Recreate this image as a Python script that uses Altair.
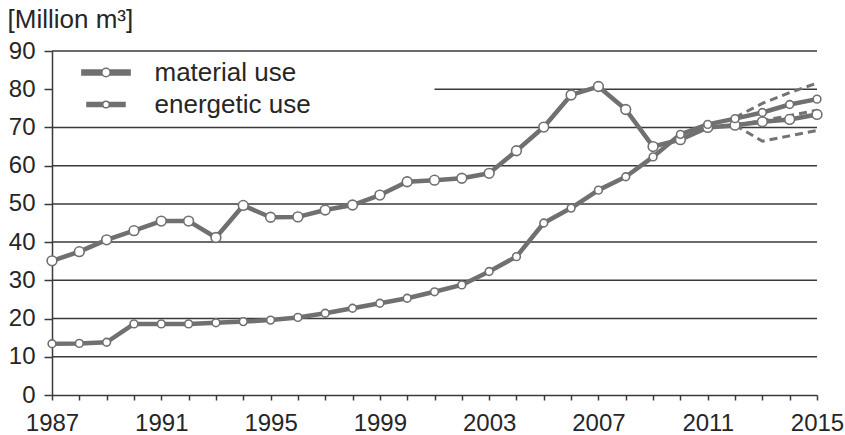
import altair as alt
import pandas as pd

# ---------------- data ----------------
years = list(range(1987, 2016))
material_use = [35.1, 37.5, 40.6, 43.0, 45.5, 45.5, 41.2, 49.6, 46.5, 46.6,
                48.4, 49.7, 52.3, 55.8, 56.2, 56.7, 58.0, 63.9, 70.1, 78.5,
                80.7, 74.7, 65.0, 66.8, 70.0, 70.6, 71.5, 72.1, 73.4]
energetic_use = [13.4, 13.5, 13.8, 18.6, 18.6, 18.6, 18.9, 19.2, 19.6, 20.3,
                 21.4, 22.7, 24.0, 25.3, 27.0, 28.8, 32.3, 36.2, 45.0, 48.9,
                 53.6, 57.1, 62.3, 68.2, 70.8, 72.3, 73.9, 76.0, 77.4]
series_names = ["material use", "energetic use"]

scenario_years = [2012, 2013, 2014, 2015]
scenario_high = [72.6, 76.3, 79.1, 81.6]
scenario_mid = [70.6, 71.8, 73.1, 74.5]
scenario_low = [70.6, 66.4, 67.8, 69.2]

grid_values = [10, 20, 30, 40, 50, 60, 70, 80, 90]
grid_start = [1987, 1987, 1987, 1987, 1987, 1987, 1987, 2001, 1987]
grid_end = [2015] * 9

y_ticks = [0, 10, 20, 30, 40, 50, 60, 70, 80, 90]
y_title = "[Million m³]"

# ---------------- tables ----------------
main_df = pd.DataFrame({
    "year": years * 2,
    "value": material_use + energetic_use,
    "series": [series_names[0]] * len(years) + [series_names[1]] * len(years),
})
main_df["marker"] = main_df["series"]
scen_df = pd.DataFrame({
    "year": scenario_years * 3,
    "value": scenario_high + scenario_mid + scenario_low,
    "scenario": ["high"] * 4 + ["mid"] * 4 + ["low"] * 4,
})
grid_df = pd.DataFrame({"year": grid_start, "year_end": grid_end, "value": grid_values})

FONT = "Liberation Sans"
TXT = "#262626"
GRAY = "#707070"
DARK = "#3a3a3a"

xscale = alt.Scale(domain=[1987, 2015], nice=False, zero=False)
yscale = alt.Scale(domain=[0, 90], nice=False, zero=True)

xaxis = alt.Axis(values=years, format="d",
                 labelExpr="(datum.value - 1987) % 4 == 0 ? datum.label : ''",
                 labelFlush=False, labelOverlap=False, grid=False, title=None,
                 tickSize=5, tickWidth=1.5, tickColor=DARK,
                 domainColor=DARK, domainWidth=1.5,
                 labelFont=FONT, labelFontSize=24, labelColor=TXT, labelPadding=11)
yaxis = alt.Axis(values=y_ticks, grid=False, tickSize=8, tickWidth=1.5, tickColor=DARK,
                 domainColor=DARK, domainWidth=1.5,
                 labelFont=FONT, labelFontSize=24, labelColor=TXT, labelPadding=9,
                 title=y_title, titleAngle=0, titleX=-45, titleY=-32,
                 titleAlign="left", titleBaseline="middle",
                 titleFont=FONT, titleFontSize=26, titleFontWeight="normal", titleColor=TXT)

X = alt.X("year:Q", scale=xscale, axis=xaxis)
Y = alt.Y("value:Q", scale=yscale, axis=yaxis)

# legend symbol (stroked): thick bar made of dense parallel strokes, open ring in the middle
_rows = [(-0.5, 0.687), (-0.333, 0.782), (-0.167, 0.833), (0.0, 0.85),
         (0.167, 0.833), (0.333, 0.782), (0.5, 0.687)]
LEG_PATH = " ".join(f"M-5.1,{yy} L-{xe},{yy} M{xe},{yy} L5.1,{yy}" for yy, xe in _rows)
LEG_PATH += " M0.85,0 A0.85,0.85 0 1,1 -0.85,0 A0.85,0.85 0 1,1 0.85,0 Z"

grid = alt.Chart(grid_df).mark_rule(color=DARK, strokeWidth=1.5).encode(
    x=X, x2="year_end:Q", y=Y)

dashed = alt.Chart(scen_df).mark_line(color="#737373", strokeWidth=3,
                                      strokeDash=[8, 5]).encode(
    x=X, y=Y, detail="scenario:N")

lines = alt.Chart(main_df).mark_line(strokeWidth=4.5, strokeJoin="round").encode(
    x=X, y=Y,
    color=alt.Color("series:N",
                    scale=alt.Scale(domain=series_names, range=[GRAY, GRAY]),
                    legend=alt.Legend(orient="none", legendX=41, legendY=8.5,
                                      title=None, symbolType=LEG_PATH, symbolSize=100,
                                      symbolFillColor="white", symbolStrokeWidth=1.5,
                                      symbolStrokeColor=GRAY,
                                      labelFont=FONT, labelFontSize=26,
                                      labelColor=TXT, labelOffset=35.5,
                                      rowPadding=6, padding=0)))

points = alt.Chart(main_df).mark_point(shape="circle", fill="white", stroke=GRAY,
                                       strokeWidth=1.6, opacity=1,
                                       fillOpacity=1).encode(
    x=X, y=Y,
    size=alt.Size("marker:N", scale=alt.Scale(domain=series_names, range=[95, 60]),
                  legend=None))

chart = alt.layer(grid, dashed, lines, points).properties(
    width=765, height=344,
    padding={"left": 52, "top": 51, "right": 28, "bottom": 40},
    autosize=alt.AutoSizeParams(type="none"),
    background="white",
).configure_view(stroke=None)

chart.save("out.html", embed_options={"renderer": "svg", "actions": False})
